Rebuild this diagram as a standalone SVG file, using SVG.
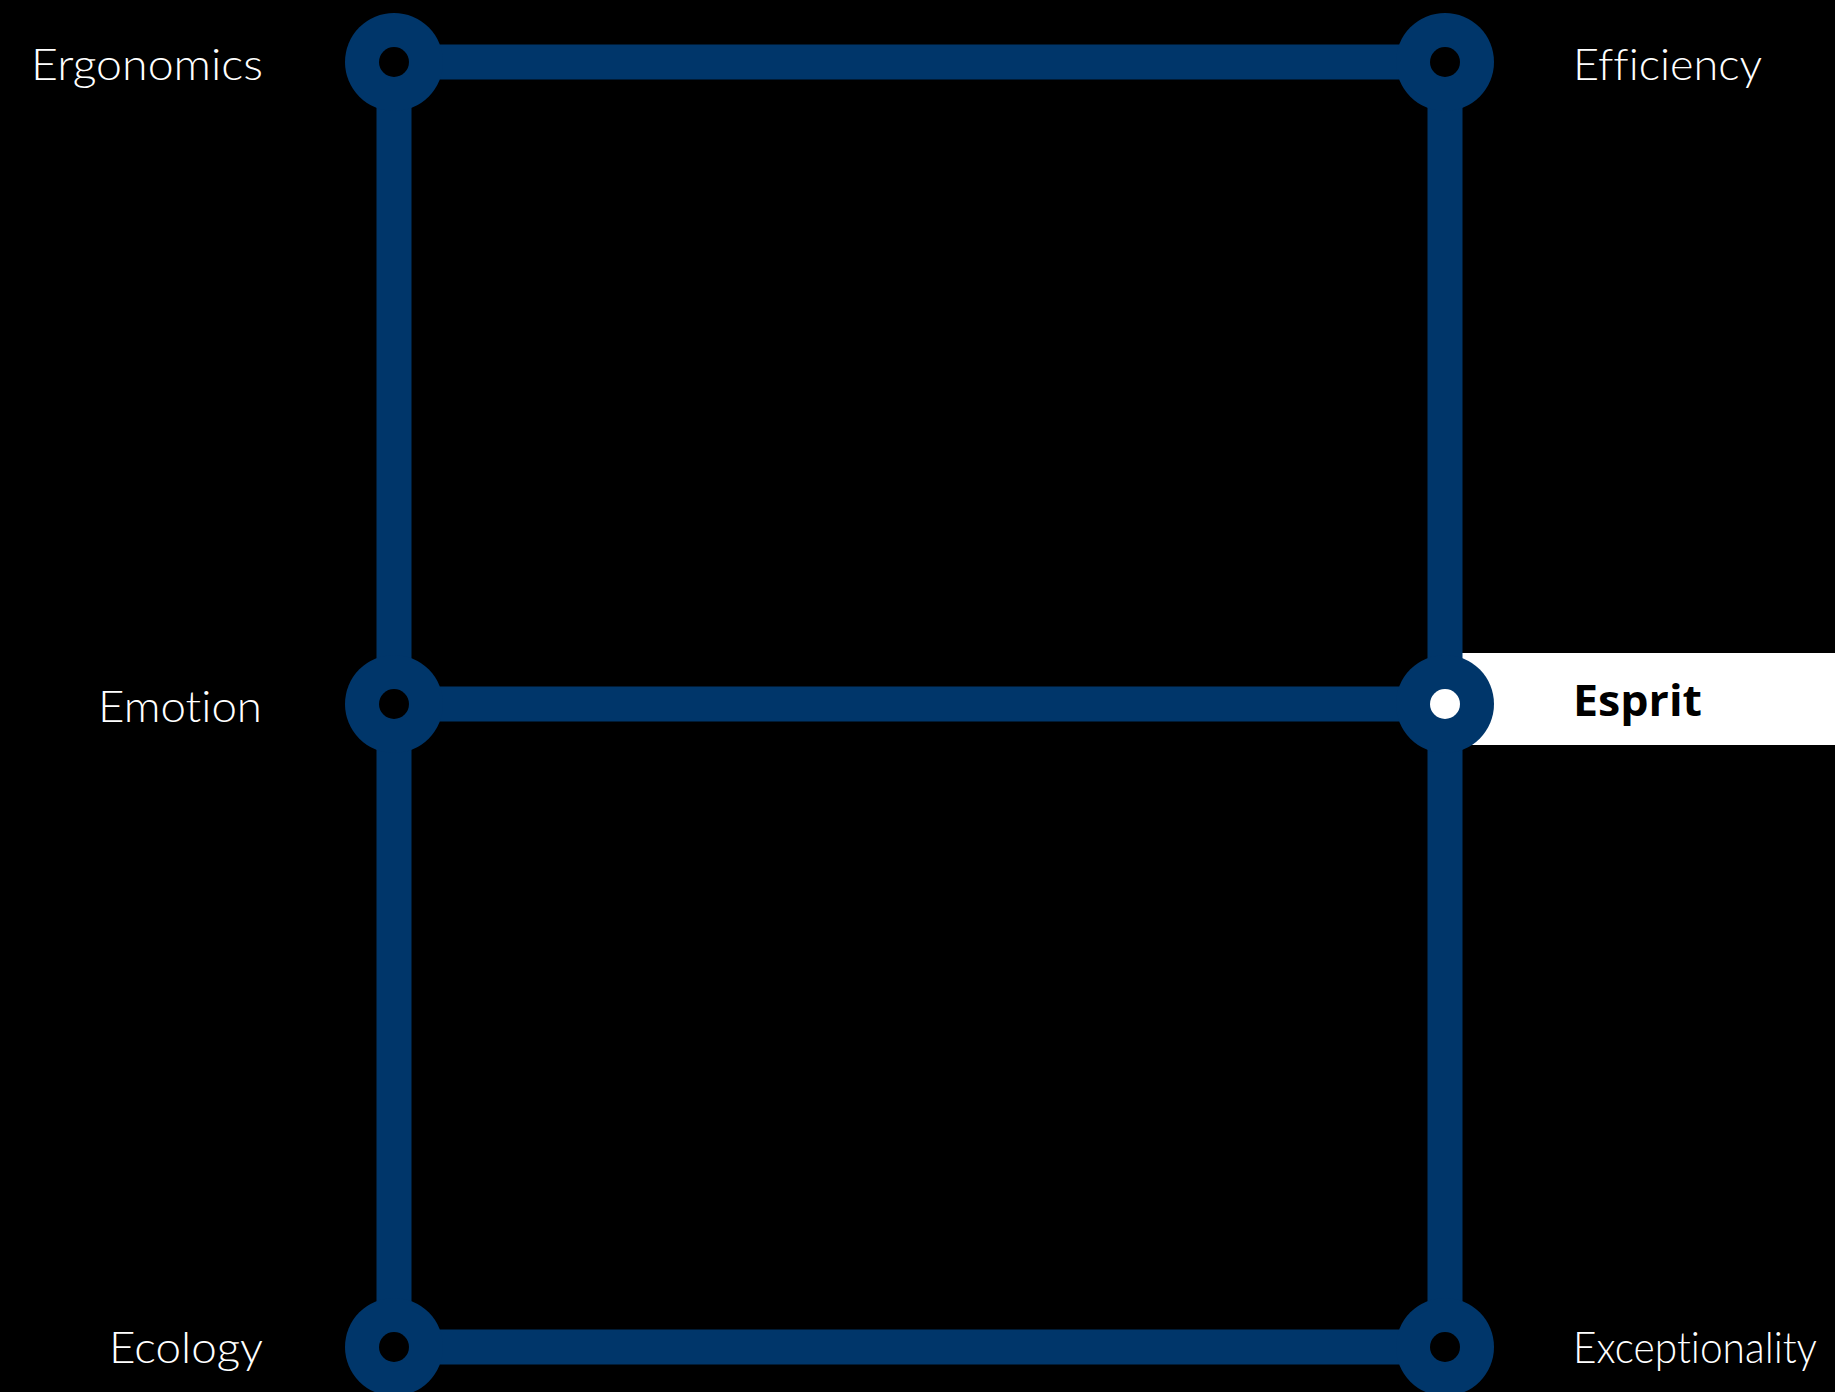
<svg xmlns="http://www.w3.org/2000/svg" width="1835" height="1392" viewBox="0 0 1835 1392">
<style>
.bg{fill:#000}
.edge{stroke:#00366a;stroke-width:35;fill:none}
.ring{fill:#00366a}
.hole{fill:#000}
.lbl{font-family:Lato,"Open Sans","Liberation Sans",sans-serif;font-weight:300;font-size:44px;fill:#fff;font-variant-ligatures:none;font-feature-settings:"liga" 0,"dlig" 0}
.sel{font-family:"Open Sans","Liberation Sans",sans-serif;font-weight:700;font-size:43px;fill:#000}
</style>
<rect class="bg" x="0" y="0" width="1835" height="1392"/>
<rect x="1445" y="653" width="390" height="92" fill="#fff"/>
<g id="connectors">
<line class="edge" x1="394" y1="62" x2="1445" y2="62"/>
<line class="edge" x1="394" y1="704" x2="1445" y2="704"/>
<line class="edge" x1="394" y1="1347" x2="1445" y2="1347"/>
<line class="edge" x1="394" y1="62" x2="394" y2="1347"/>
<line class="edge" x1="1445" y1="62" x2="1445" y2="1347"/>
</g>
<g id="ergonomics"><circle class="ring" cx="394" cy="62" r="49"/><circle class="hole" cx="394" cy="62" r="15"/><text class="lbl" x="31" y="80" textLength="232" lengthAdjust="spacingAndGlyphs">Ergonomics</text></g>
<g id="efficiency"><circle class="ring" cx="1445" cy="62" r="49"/><circle class="hole" cx="1445" cy="62" r="15"/><text class="lbl" x="1573" y="80" textLength="189" lengthAdjust="spacingAndGlyphs">Efficiency</text></g>
<g id="emotion"><circle class="ring" cx="394" cy="704" r="49"/><circle class="hole" cx="394" cy="704" r="15"/><text class="lbl" x="98" y="722" textLength="164" lengthAdjust="spacingAndGlyphs">Emotion</text></g>
<g id="esprit"><circle class="ring" cx="1445" cy="704" r="49"/><circle cx="1445" cy="704" r="15" fill="#fff"/><text class="sel" x="1573" y="716" textLength="129" lengthAdjust="spacingAndGlyphs">Esprit</text></g>
<g id="ecology"><circle class="ring" cx="394" cy="1347" r="49"/><circle class="hole" cx="394" cy="1347" r="15"/><text class="lbl" x="109" y="1363" textLength="154" lengthAdjust="spacingAndGlyphs">Ecology</text></g>
<g id="exceptionality"><circle class="ring" cx="1445" cy="1347" r="49"/><circle class="hole" cx="1445" cy="1347" r="15"/><text class="lbl" x="1573" y="1363" textLength="244" lengthAdjust="spacingAndGlyphs">Exceptionality</text></g>
</svg>
